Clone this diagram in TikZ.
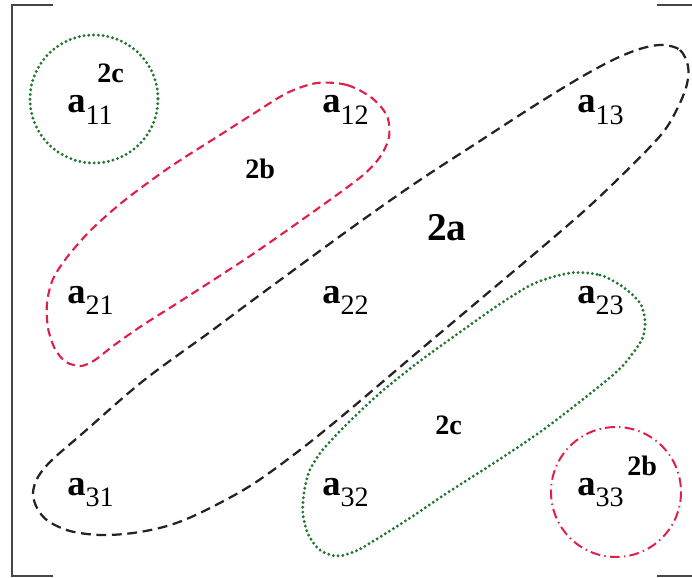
\documentclass[tikz,border=0pt]{standalone}
\usepackage{fontspec}
\setmainfont{Liberation Serif}
\definecolor{loopblack}{RGB}{35,35,35}
\definecolor{loopred}{RGB}{225,30,70}
\definecolor{loopgreen}{RGB}{35,120,45}
\definecolor{bracketgray}{RGB}{70,70,70}
\newcommand{\elem}[1]{\textbf{a}{\fontsize{20}{22}\selectfont\raisebox{-8pt}{#1}}}

\begin{document}
\begin{tikzpicture}[x=0.025cm, y=-0.025cm,
    entry/.style={font=\fontsize{26}{28}\selectfont, anchor=base west, inner sep=0pt},
    tag/.style={font=\fontsize{20}{22}\selectfont\bfseries, anchor=base west, inner sep=0pt},
    bracket/.style={bracketgray, line width=1.2pt},
    blackloop/.style={loopblack, line width=1.6pt, dash pattern=on 7pt off 4pt},
    redloop/.style={loopred, line width=1.5pt, dash pattern=on 6pt off 3.5pt},
    reddashdot/.style={loopred, line width=1.4pt, dash pattern=on 7pt off 3pt on 1pt off 3pt},
    greenloop/.style={loopgreen, line width=2.3pt, line cap=round, dash pattern=on 0pt off 3.4pt}]
        \useasboundingbox (0,0) rectangle (692,578);
        % Matrix brackets
        \draw [bracket] (53,5) -- (12,5) -- (12,576) -- (53,576);
        \draw [bracket] (657,5) -- (692,5);
        \draw [bracket] (657,576) -- (692,576);
        % Entries
        \node [entry] (a11) at (67,113) {\elem{11}};
        \node [entry] (a12) at (322,113) {\elem{12}};
        \node [entry] (a13) at (577,113) {\elem{13}};
        \node [entry] (a21) at (67,303) {\elem{21}};
        \node [entry] (a22) at (322,303) {\elem{22}};
        \node [entry] (a23) at (577,303) {\elem{23}};
        \node [entry] (a31) at (67,495) {\elem{31}};
        \node [entry] (a32) at (322,495) {\elem{32}};
        \node [entry] (a33) at (577,495) {\elem{33}};
        % Loops
        \draw [blackloop] plot [smooth cycle, tension=0.55] coordinates {(663,45) (680,50) (688,66) (687,84) (680,103) (667,127) (650,147) (617,180) (583,212) (533,255) (483,297) (413,356) (347,412) (300,450) (250,486) (200,513) (167,526) (133,533) (100,535) (70,531) (48,521) (37,508) (33,493) (38,477) (52,460) (83,433) (143,381) (210,332) (253,300) (350,229) (417,182) (483,139) (537,104) (583,76) (617,58) (643,48)};
        \draw [redloop] plot [smooth cycle, tension=0.5] coordinates {(317,83) (347,85) (372,98) (387,116) (389,137) (380,157) (362,176) (320,207) (253,254) (187,297) (143,325) (113,346) (95,360) (81,366) (66,362) (55,349) (48,328) (47,303) (53,279) (68,256) (92,229) (125,200) (170,167) (220,135) (253,114) (287,93)};
        \draw [greenloop] plot [smooth cycle, tension=0.5] coordinates {(570,273) (600,275) (623,287) (640,303) (645,320) (643,337) (633,353) (613,375) (547,427) (497,461) (447,493) (413,516) (380,537) (356,551) (337,556) (320,550) (308,534) (303,514) (304,493) (309,472) (321,452) (345,426) (380,393) (420,361) (463,330) (497,306) (533,284)};
        \draw [greenloop] (94,99) circle (64);
        \draw [reddashdot] (616,492) circle (65);
        % Loop labels
        \node [tag] (c11) at (97,83) {2c};
        \node [tag] (b12) at (245,179) {2b};
        \node [tag, font=\fontsize{28}{30}\selectfont\bfseries] (adiag) at (427,240) {2a};
        \node [tag] (c23) at (435,434) {2c};
        \node [tag] (b33) at (627,475) {2b};
\end{tikzpicture}
\end{document}
